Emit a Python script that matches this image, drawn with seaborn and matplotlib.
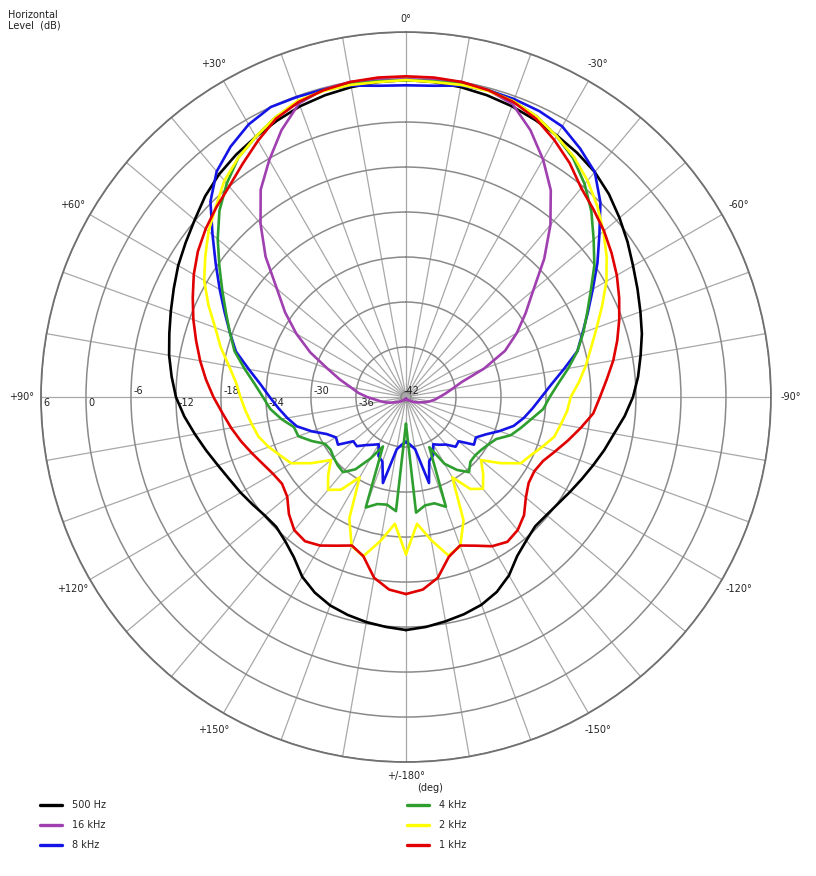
import numpy as np
import pandas as pd
import matplotlib
matplotlib.use('Agg')
import matplotlib.pyplot as plt
from matplotlib.lines import Line2D
import seaborn as sns

# angle in degrees, + is to the left of the axis (counter clockwise)
angles = list(range(-180, 181, 5))

level_500hz = [
    -11.6, -11.9, -12.3, -12.7, -13.2, -14.0, -15.2, -16.8, -17.7, -18.3, -18.2, -17.9,
    -17.4, -16.8, -16.1, -15.3, -14.5, -13.4, -12.4, -11.6, -10.9, -10.1, -9.4, -8.6,
    -7.7, -6.6, -5.5, -4.4, -3.5, -2.9, -2.4, -1.9, -1.4, -1.0, -0.7, -0.5,
    -0.4,
    -0.5, -0.7, -1.0, -1.4, -2.0, -2.6, -3.2, -3.9, -4.8, -5.9, -6.8, -7.6,
    -8.5, -9.3, -10.0, -10.6, -11.3, -12.0, -13.0, -14.1, -15.1, -16.0, -16.7, -17.2,
    -17.7, -18.1, -18.2, -17.6, -16.6, -15.0, -13.9, -13.1, -12.6, -12.2, -11.9, -11.6,
]
level_16k = [
    -42.5, -42.5, -42.4, -42.4, -42.3, -42.3, -42.2, -42.2, -42.1, -42.0, -41.8, -41.6,
    -41.3, -41.0, -40.6, -40.0, -39.4, -38.8, -38.2, -37.4, -36.4, -35.0, -31.6, -28.1,
    -25.6, -23.2, -20.5, -16.6, -12.7, -9.0, -6.1, -3.4, -1.1, -0.3, 0.0, -0.2,
    -0.3,
    -0.2, 0.0, -0.2, -1.0, -3.4, -6.2, -8.9, -12.5, -16.2, -20.2, -23.0, -25.8,
    -28.6, -31.5, -33.5, -35.2, -36.3, -37.5, -38.6, -39.3, -39.9, -40.5, -41.0, -41.3,
    -41.6, -41.8, -42.0, -42.1, -42.2, -42.2, -42.3, -42.3, -42.4, -42.4, -42.5, -42.5,
]
level_8k = [
    -36.7, -36.3, -35.6, -30.8, -33.6, -34.1, -35.4, -34.9, -34.4, -33.3, -33.5, -31.6,
    -31.9, -30.9, -29.4, -27.8, -26.7, -25.7, -24.6, -23.2, -21.3, -19.0, -17.6, -15.9,
    -13.9, -11.5, -9.0, -6.0, -3.5, -2.2, -1.0, -0.6, -0.4, -0.3, -0.5, -1.0,
    -1.1,
    -1.0, -0.5, -0.2, -0.1, 0.0, -0.7, -1.9, -3.4, -5.8, -9.0, -11.7, -14.0,
    -16.0, -17.7, -19.2, -21.4, -23.2, -24.5, -25.6, -26.6, -27.6, -29.3, -31.0, -31.9,
    -31.6, -33.5, -33.4, -34.3, -34.9, -35.4, -34.0, -33.5, -30.8, -35.6, -36.3, -36.7,
]
level_4k = [
    -39.1, -27.2, -28.0, -28.0, -27.1, -35.3, -32.4, -30.8, -29.6, -30.5, -30.6, -30.4,
    -30.0, -29.4, -27.8, -26.8, -25.7, -24.3, -23.5, -22.3, -20.7, -19.0, -17.5, -16.0,
    -14.2, -12.0, -10.0, -7.7, -5.6, -3.8, -2.5, -1.4, -0.7, -0.3, -0.3, -0.4,
    -0.4,
    -0.4, -0.3, -0.3, -0.8, -1.5, -2.6, -3.7, -5.5, -7.5, -9.9, -12.3, -14.4,
    -16.2, -17.7, -19.0, -20.8, -22.4, -23.6, -24.5, -25.8, -27.2, -27.4, -28.8, -30.2,
    -30.4, -30.1, -29.8, -29.6, -30.9, -33.2, -35.4, -27.0, -27.9, -28.1, -27.4, -39.1,
]
level_2k = [
    -21.7, -25.7, -23.3, -20.8, -21.5, -24.5, -30.3, -27.7, -26.7, -28.1, -29.6, -27.3,
    -25.0, -24.3, -23.3, -22.2, -21.7, -21.1, -20.7, -19.5, -18.3, -17.1, -15.6, -13.8,
    -11.8, -10.0, -8.3, -6.6, -5.0, -3.6, -2.5, -1.4, -0.7, -0.4, -0.4, -0.5,
    -0.4,
    -0.5, -0.4, -0.4, -0.6, -1.5, -2.6, -3.7, -5.0, -6.8, -8.3, -10.0, -11.6,
    -13.6, -15.6, -17.1, -18.7, -19.9, -20.6, -21.2, -21.8, -22.3, -23.2, -24.2, -25.0,
    -27.3, -29.6, -28.0, -26.5, -27.6, -30.3, -24.8, -21.5, -20.7, -23.2, -25.7, -21.7,
]
level_1k = [
    -16.4, -16.9, -18.2, -20.6, -21.6, -20.8, -19.7, -19.1, -19.5, -20.4, -21.8, -22.7,
    -22.9, -22.5, -21.5, -20.3, -19.0, -17.6, -16.8, -15.8, -14.6, -13.5, -12.4, -11.3,
    -10.2, -9.2, -8.2, -7.3, -6.3, -4.6, -3.1, -1.7, -0.8, -0.3, 0.0, 0.1,
    0.1,
    0.1, 0.0, -0.3, -0.8, -1.7, -3.2, -4.7, -6.0, -6.9, -7.8, -8.8, -10.0,
    -11.3, -12.5, -13.7, -14.8, -15.9, -17.0, -18.1, -19.0, -19.9, -20.8, -21.6, -22.2,
    -22.5, -22.0, -20.6, -19.5, -19.2, -19.8, -20.8, -21.6, -20.7, -18.2, -16.9, -16.4,
]

series_names = ['500 Hz', '16 kHz', '8 kHz', '4 kHz', '2 kHz', '1 kHz']
series_levels = [level_500hz, level_16k, level_8k, level_4k, level_2k, level_1k]
series_colors = ['#000000', '#a040b0', '#1414e6', '#2e9e2e', '#ffff00', '#e00000']

ring_values = [6, 0, -6, -12, -18, -24, -30, -36, -42]
ring_labels = ['6', '0', '-6', '-12', '-18', '-24', '-30', '-36', '-42']
ring_above = [False, False, True, False, True, False, True, False, True]

angle_ticks = list(range(0, 360, 10))
label_angles = [0, 30, 60, 90, 120, 150, 180, 210, 240, 270, 300, 330]
label_texts = ['0°', '+30°', '+60°', '+90°', '+120°', '+150°', '+/-180°',
               '-150°', '-120°', '-90°', '-60°', '-30°']


def main():
    sns.set_style('white')
    plt.rcParams['font.family'] = ['DejaVu Sans']

    frames = []
    for name, lev in zip(series_names, series_levels):
        frames.append(pd.DataFrame({
            'theta': np.deg2rad(angles),
            'level': lev,
            'series': name,
        }))
    df = pd.concat(frames, ignore_index=True)

    fig = plt.figure(figsize=(8.16, 8.76), dpi=100)
    ax = fig.add_axes([0.0502, 0.1301, 0.8946, 0.8333], projection='polar')
    ax.set_theta_zero_location('N')
    ax.set_theta_direction(1)

    sns.lineplot(data=df, x='theta', y='level', hue='series', hue_order=series_names,
                 palette=dict(zip(series_names, series_colors)), sort=False,
                 estimator=None, legend=False, linewidth=1.9, ax=ax, zorder=3)

    ax.set_ylim(-42.67, 6)
    ax.set_yticks(ring_values)
    ax.set_yticklabels([])
    ax.set_xticks(np.deg2rad(angle_ticks))
    ax.set_xticklabels([])
    ax.tick_params(axis='both', length=0)
    ax.xaxis.grid(True, color='#a8a8a8', linewidth=0.9)
    ax.yaxis.grid(True, color='#8a8a8a', linewidth=1.1)
    ax.spines['polar'].set_color('#707070')
    ax.spines['polar'].set_linewidth(1.3)
    ax.set_xlabel('')
    ax.set_ylabel('')

    # angle labels just outside the rim
    for a, s in zip(label_angles, label_texts):
        r = 7.8 if a in (0, 180) else 8.6
        ax.text(np.deg2rad(a), r, s, ha='center', va='center', fontsize=7,
                color='#222222', clip_on=False)

    # radial level labels along the +90 spoke, alternating above/below
    for v, s, up in zip(ring_values, ring_labels, ring_above):
        ax.annotate(s, xy=(np.pi / 2, v), xytext=(1.5, 1 if up else -1),
                    textcoords='offset points', ha='left',
                    va='bottom' if up else 'top', fontsize=7, color='#222222',
                    zorder=1)

    fig.text(8 / 816, 1 - 10 / 876, 'Horizontal\nLevel  (dB)', ha='left', va='top',
             fontsize=7, color='#222222', linespacing=1.1)
    fig.text(430 / 816, 1 - 788 / 876, '(deg)', ha='center', va='center',
             fontsize=7, color='#222222')

    handles = [Line2D([0], [0], color=c, lw=2.4) for c in series_colors]
    legend_kw = dict(loc='upper left', frameon=False, fontsize=7, handlelength=2.3,
                     handletextpad=1.0, labelspacing=1.05, borderpad=0,
                     borderaxespad=0)
    fig.legend(handles[:3], series_names[:3],
               bbox_to_anchor=(40 / 816, 1 - 800 / 876), **legend_kw)
    fig.legend(handles[3:], series_names[3:],
               bbox_to_anchor=(407 / 816, 1 - 800 / 876), **legend_kw)

    fig.savefig('out.png', dpi=100, facecolor='white')


if __name__ == '__main__':
    main()
